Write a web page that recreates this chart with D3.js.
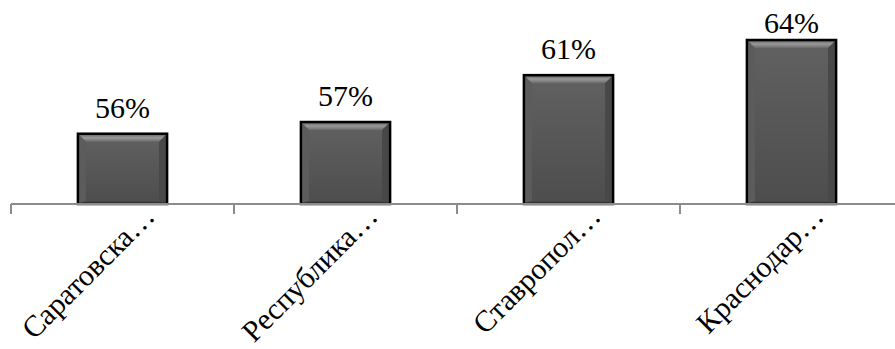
<!DOCTYPE html>
<html>
<head>
<meta charset="utf-8">
<script src="https://cdn.jsdelivr.net/npm/d3@7"></script>
<style>
  html, body { margin: 0; padding: 0; background: #fff; }
  svg { display: block; }
</style>
</head>
<body>
<svg id="chart" width="895" height="349"></svg>
<script>
// Regions and their shares
const categories = ["Саратовска…", "Республика…", "Ставропол…", "Краснодар…"];
const values = [56, 57, 61, 64];
const valueLabels = ["56%", "57%", "61%", "64%"];

const width = 895, height = 349;
const serif = "'Liberation Serif', 'Times New Roman', serif";
const svg = d3.select("#chart");

const x = d3.scaleBand()
  .domain(categories)
  .range([11, 903])
  .paddingInner(0.6)
  .paddingOuter(0.3);

const y = d3.scaleLinear()
  .domain([50, 64])
  .range([204, 40]);

const defs = svg.append("defs");
const body = defs.append("linearGradient").attr("id", "barBody")
  .attr("x1", 0).attr("y1", 0).attr("x2", 0).attr("y2", 1);
body.append("stop").attr("offset", 0).attr("stop-color", "#616161");
body.append("stop").attr("offset", 1).attr("stop-color", "#4d4d4d");

const topBevel = defs.append("linearGradient").attr("id", "topBevel")
  .attr("x1", 0).attr("y1", 0).attr("x2", 0).attr("y2", 1);
topBevel.append("stop").attr("offset", 0).attr("stop-color", "#5a5a5a");
topBevel.append("stop").attr("offset", 0.5).attr("stop-color", "#9a9a9a");
topBevel.append("stop").attr("offset", 1).attr("stop-color", "#6a6a6a");

const bottomBevel = defs.append("linearGradient").attr("id", "bottomBevel")
  .attr("x1", 0).attr("y1", 0).attr("x2", 0).attr("y2", 1);
bottomBevel.append("stop").attr("offset", 0).attr("stop-color", "#4a4a4a");
bottomBevel.append("stop").attr("offset", 1).attr("stop-color", "#3a3a3a");

const data = categories.map((c, i) => ({ c, v: values[i], label: valueLabels[i] }));
const bevel = 8;

const bars = svg.append("g").selectAll("g").data(data).join("g");

bars.append("rect")
  .attr("x", d => x(d.c))
  .attr("y", d => y(d.v))
  .attr("width", x.bandwidth())
  .attr("height", d => y(50) - y(d.v))
  .attr("fill", "url(#barBody)");

// top bevel highlight
bars.append("path")
  .attr("d", d => {
    const x0 = x(d.c), x1 = x0 + x.bandwidth(), t = y(d.v);
    return `M${x0},${t}L${x1},${t}L${x1 - bevel},${t + bevel}L${x0 + bevel},${t + bevel}Z`;
  })
  .attr("fill", "url(#topBevel)");

// side bevels
bars.append("path")
  .attr("d", d => {
    const x0 = x(d.c), t = y(d.v), b = y(50);
    return `M${x0},${t}L${x0 + bevel},${t + bevel}L${x0 + bevel},${b - 3}L${x0},${b}Z`;
  })
  .attr("fill", "#5c5c5c");
bars.append("path")
  .attr("d", d => {
    const x1 = x(d.c) + x.bandwidth(), t = y(d.v), b = y(50);
    return `M${x1},${t}L${x1 - bevel},${t + bevel}L${x1 - bevel},${b - 3}L${x1},${b}Z`;
  })
  .attr("fill", "#484848");

// bottom bevel
bars.append("path")
  .attr("d", d => {
    const x0 = x(d.c), x1 = x0 + x.bandwidth(), b = y(50);
    return `M${x0},${b}L${x0 + bevel},${b - 3}L${x1 - bevel},${b - 3}L${x1},${b}Z`;
  })
  .attr("fill", "url(#bottomBevel)");

bars.append("rect")
  .attr("x", d => x(d.c))
  .attr("y", d => y(d.v))
  .attr("width", x.bandwidth())
  .attr("height", d => y(50) - y(d.v))
  .attr("fill", "none")
  .attr("stroke", "#000")
  .attr("stroke-width", 2.5);

// value labels, kept inside the top edge
svg.append("g").selectAll("text").data(data).join("text")
  .attr("x", d => x(d.c) + x.bandwidth() / 2)
  .attr("y", d => Math.max(y(d.v) - 16, 33))
  .attr("text-anchor", "middle")
  .style("font-family", serif)
  .style("font-size", "30px")
  .attr("fill", "#000")
  .text(d => d.label);

// category axis
const axisY = y(50);
const axis = svg.append("g");
axis.append("line")
  .attr("x1", x.range()[0]).attr("x2", width)
  .attr("y1", axisY).attr("y2", axisY)
  .attr("stroke", "#8c8c8c").attr("stroke-width", 2);

const step = x.step();
const boundaries = d3.range(categories.length + 1).map(i => x.range()[0] + i * step);
axis.selectAll("line.tick").data(boundaries).join("line")
  .attr("class", "tick")
  .attr("x1", d => d).attr("x2", d => d)
  .attr("y1", axisY).attr("y2", axisY + 10)
  .attr("stroke", "#8c8c8c").attr("stroke-width", 2);

axis.selectAll("text").data(categories).join("text")
  .attr("transform", d => `translate(${x(d) + x.bandwidth() / 2 + 34},${axisY + 14}) rotate(-45)`)
  .attr("text-anchor", "end")
  .style("font-family", serif)
  .style("font-size", "30px")
  .attr("fill", "#000")
  .text(d => d);
</script>
</body>
</html>
